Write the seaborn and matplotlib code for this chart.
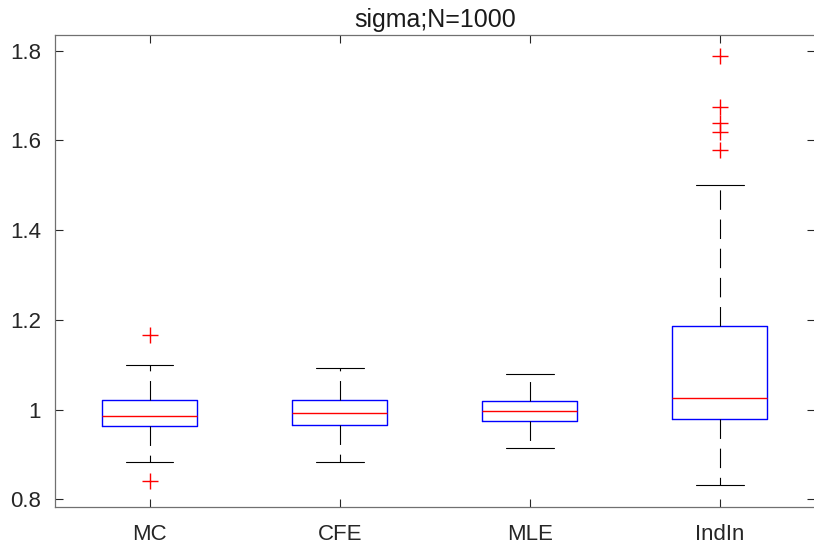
import matplotlib
matplotlib.use("Agg")
import matplotlib.pyplot as plt
import seaborn as sns
from matplotlib.ticker import FormatStrFormatter, FixedLocator

# ---- data (box statistics) ----
categories = ["MC", "CFE", "MLE", "IndIn"]
whisker_low = [0.884, 0.883, 0.915, 0.831]
q1 = [0.963, 0.966, 0.975, 0.978]
median = [0.985, 0.993, 0.997, 1.025]
q3 = [1.021, 1.022, 1.020, 1.187]
whisker_high = [1.100, 1.092, 1.079, 1.501]
outliers = [
    [1.166, 0.841],
    [],
    [],
    [1.788, 1.674, 1.638, 1.618, 1.579],
]
yticks = [0.8, 1.0, 1.2, 1.4, 1.6, 1.8]
title = "sigma;N=1000"

sns.set_style("white")
plt.rcParams["font.family"] = ["Liberation Sans", "DejaVu Sans"]
plt.rcParams["lines.scale_dashes"] = False

fig = plt.figure(figsize=(8.14, 5.54), dpi=100)
ax = fig.add_axes([54.7 / 814, 1 - 507 / 554, 760.3 / 814, (507 - 35) / 554])

stats = []
for i, c in enumerate(categories):
    stats.append(dict(label=c, whislo=whisker_low[i], q1=q1[i], med=median[i],
                      q3=q3[i], whishi=whisker_high[i], fliers=outliers[i]))

positions = list(range(1, len(categories) + 1))
ax.bxp(stats, positions=positions, widths=0.5, capwidths=0.25,
       showfliers=True, patch_artist=False,
       boxprops=dict(color="#0000ff", linewidth=1.0),
       medianprops=dict(color="#ff0000", linewidth=1.0),
       whiskerprops=dict(color="black", linewidth=0.8, linestyle=(0, (14, 7))),
       capprops=dict(color="black", linewidth=0.8),
       flierprops=dict(marker="+", markeredgecolor="#ff0000", markersize=12,
                       markeredgewidth=1.0, linestyle="none"))

ax.set_xlim(0.5, 4.5)
ax.set_ylim(0.7828, 1.835)
ax.yaxis.set_major_locator(FixedLocator(yticks))
ax.yaxis.set_major_formatter(FormatStrFormatter("%g"))
ax.set_xticks(positions)
ax.set_xticklabels(categories)

for s in ax.spines.values():
    s.set_visible(True)
    s.set_color("#707070")
    s.set_linewidth(0.9)

ax.tick_params(direction="in", length=6, width=0.8, color="#262626",
               labelsize=16, labelcolor="#262626",
               top=True, right=True, left=True, bottom=True)
ax.tick_params(axis="x", pad=12)
ax.tick_params(axis="y", pad=10)
ax.set_title(title, fontsize=18, color="#1a1a1a", pad=6)
ax.grid(False)

fig.savefig("out.png", dpi=100)
